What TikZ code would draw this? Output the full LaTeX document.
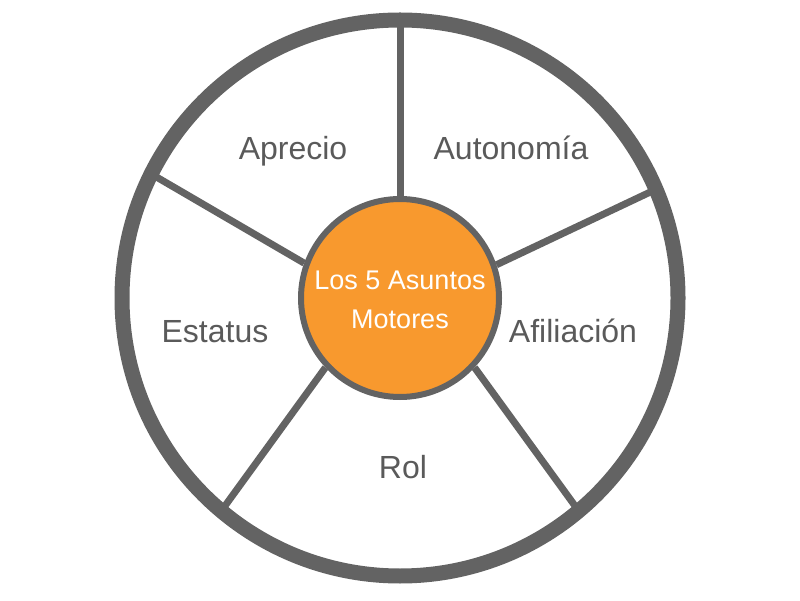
\documentclass[tikz,border=0pt]{standalone}
\usepackage{fontspec}
\setmainfont{Liberation Sans}
\usetikzlibrary{calc, positioning, backgrounds}
\definecolor{ring}{HTML}{636363}
\definecolor{ink}{HTML}{5A5A5A}
\definecolor{core}{HTML}{F8992E}
\tikzset{
  rim/.style={draw=ring, line width=15pt},
  spoke/.style={draw=ring, line width=7pt},
  hub/.style={circle, draw=ring, line width=6pt, fill=core, minimum size=198pt, inner sep=0pt},
  hubtxt/.style={align=center, text=white, font=\fontsize{27}{39}\selectfont, inner sep=0pt},
  lab/.style={text=ink, font=\fontsize{32}{38}\selectfont, inner sep=0pt, anchor=base},
}

\begin{document}
\begin{tikzpicture}[x=1pt, y=1pt]
\useasboundingbox (0,0) rectangle (800,600);
\coordinate (o) at (400,302);
\node[hub] (h) at (o) {};
\node[hubtxt] (t) at ($(o)+(0,-2)$) {Los 5 Asuntos\\Motores};

\node[lab] (ap) at (293,440) {Aprecio};
\node[lab] (au) at (511,440) {Autonomía};
\node[lab] (es) at (215,257) {Estatus};
\node[lab] (af) at (573,257) {Afiliación};
\node[lab] (ro) at (403,122) {Rol};

\begin{scope}[on background layer]
\draw[rim] (o) circle (278);
\draw[spoke] (h.90) -- ($(o)+(90:278)$);
\draw[spoke] (h.19) -- ($(o)+(23:278)$);
\draw[spoke] (h.-43) -- ($(o)+(-50:278)$);
\draw[spoke] (h.223) -- ($(o)+(230:278)$);
\draw[spoke] (h.160) -- ($(o)+(153.5:278)$);
\end{scope}
\end{tikzpicture}
\end{document}
